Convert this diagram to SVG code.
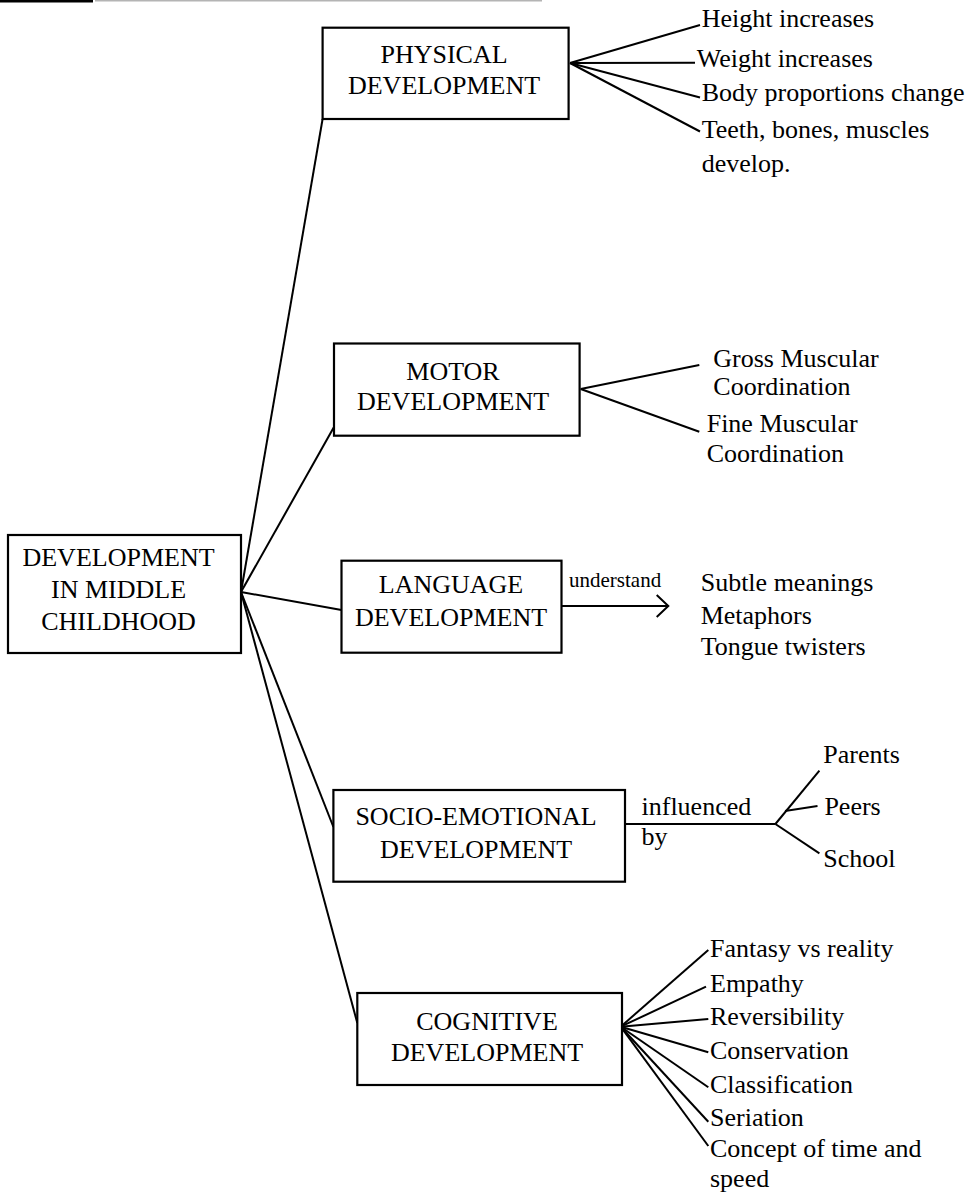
<svg xmlns="http://www.w3.org/2000/svg" width="972" height="1194" viewBox="0 0 972 1194">
<style>
  .box { fill: #ffffff; stroke: #000000; stroke-width: 2.2; }
  .ln { fill: none; stroke: #000000; stroke-width: 2; stroke-linecap: butt; }
  text { font-family: "Liberation Serif", "Times New Roman", serif; font-size: 26px; fill: #000000; }
  .c { text-anchor: middle; }
  .sm { font-size: 21px; }
</style>
<rect width="972" height="1194" fill="#ffffff"/>
<g id="header-rule">
  <rect x="0" y="0" width="93" height="2.5" fill="#000000"/>
  <rect x="95" y="0" width="447" height="1.5" fill="#b4b4b4"/>
</g>
<g id="connectors">
  <line class="ln" x1="241" y1="592" x2="322.6" y2="119"/>
  <line class="ln" x1="241" y1="592" x2="334" y2="427"/>
  <line class="ln" x1="241" y1="592" x2="341.5" y2="610"/>
  <line class="ln" x1="241" y1="592" x2="333.4" y2="827"/>
  <line class="ln" x1="241" y1="592" x2="357.3" y2="1023"/>
  <line class="ln" x1="570" y1="63" x2="700" y2="25"/>
  <line class="ln" x1="570" y1="63" x2="695" y2="62.7"/>
  <line class="ln" x1="570" y1="63" x2="700" y2="97.5"/>
  <line class="ln" x1="570" y1="63" x2="700" y2="131.5"/>
  <line class="ln" x1="580.7" y1="389" x2="699.3" y2="365"/>
  <line class="ln" x1="580.7" y1="389" x2="699.3" y2="431.7"/>
  <line class="ln" x1="561.6" y1="606" x2="668" y2="606"/>
  <polyline class="ln" points="656.7,595 668.3,606 656.7,617"/>
  <line class="ln" x1="625" y1="824" x2="775.4" y2="824"/>
  <line class="ln" x1="775.4" y1="824" x2="819.4" y2="770.7"/>
  <line class="ln" x1="785" y1="811" x2="817.5" y2="806"/>
  <line class="ln" x1="775.4" y1="824" x2="819.4" y2="853.3"/>
  <line class="ln" x1="620.7" y1="1026.7" x2="708.3" y2="950"/>
  <line class="ln" x1="620.7" y1="1026.7" x2="706" y2="986.7"/>
  <line class="ln" x1="620.7" y1="1026.7" x2="708.3" y2="1019"/>
  <line class="ln" x1="620.7" y1="1026.7" x2="708.3" y2="1052.3"/>
  <line class="ln" x1="620.7" y1="1026.7" x2="708.3" y2="1087.3"/>
  <line class="ln" x1="620.7" y1="1026.7" x2="708.3" y2="1121.7"/>
  <line class="ln" x1="620.7" y1="1026.7" x2="708.3" y2="1146"/>
</g>
<g id="node-main">
  <rect class="box" x="8" y="535" width="233" height="118"/>
  <text class="c" x="118.5" y="565.7">DEVELOPMENT</text>
  <text class="c" x="118.5" y="597.7">IN MIDDLE</text>
  <text class="c" x="118.5" y="630">CHILDHOOD</text>
</g>
<g id="node-physical">
  <rect class="box" x="322.6" y="27.7" width="246" height="91.3"/>
  <text class="c" x="444" y="63.3">PHYSICAL</text>
  <text class="c" x="444" y="94.3">DEVELOPMENT</text>
</g>
<g id="node-physical-items">
  <text x="701.7" y="26.7">Height increases</text>
  <text x="696.7" y="66.7">Weight increases</text>
  <text x="701.7" y="101">Body proportions change</text>
  <text x="701.7" y="138">Teeth, bones, muscles</text>
  <text x="701.7" y="171.7">develop.</text>
</g>
<g id="node-motor">
  <rect class="box" x="334" y="343.5" width="245.6" height="92.2"/>
  <text class="c" x="453" y="380">MOTOR</text>
  <text class="c" x="453" y="410">DEVELOPMENT</text>
</g>
<g id="node-motor-items">
  <text x="713.3" y="367.3">Gross Muscular</text>
  <text x="713.3" y="395">Coordination</text>
  <text x="706.7" y="431.7">Fine Muscular</text>
  <text x="706.7" y="461.7">Coordination</text>
</g>
<g id="node-language">
  <rect class="box" x="341.5" y="560.7" width="220" height="92"/>
  <text class="c" x="451" y="593.3">LANGUAGE</text>
  <text class="c" x="451" y="625.7">DEVELOPMENT</text>
  <text class="sm" x="569" y="587">understand</text>
</g>
<g id="node-language-items">
  <text x="700.7" y="590.7">Subtle meanings</text>
  <text x="700.7" y="623.5">Metaphors</text>
  <text x="700.7" y="655">Tongue twisters</text>
</g>
<g id="node-socio">
  <rect class="box" x="333.4" y="790" width="291.6" height="91.7"/>
  <text class="c" x="476" y="825">SOCIO-EMOTIONAL</text>
  <text class="c" x="476" y="858.3">DEVELOPMENT</text>
  <text x="641.5" y="815">influenced</text>
  <text x="641.5" y="845">by</text>
</g>
<g id="node-socio-items">
  <text x="823.3" y="763.3">Parents</text>
  <text x="824.4" y="815">Peers</text>
  <text x="823.3" y="866.5">School</text>
</g>
<g id="node-cognitive">
  <rect class="box" x="357.3" y="993" width="264.7" height="92"/>
  <text class="c" x="487" y="1029.5">COGNITIVE</text>
  <text class="c" x="487" y="1061">DEVELOPMENT</text>
</g>
<g id="node-cognitive-items">
  <text x="710" y="957">Fantasy vs reality</text>
  <text x="710" y="991.5">Empathy</text>
  <text x="710" y="1025">Reversibility</text>
  <text x="710" y="1059">Conservation</text>
  <text x="710" y="1093">Classification</text>
  <text x="710" y="1125.5">Seriation</text>
  <text x="710" y="1156.5">Concept of time and</text>
  <text x="710" y="1187">speed</text>
</g>
</svg>
